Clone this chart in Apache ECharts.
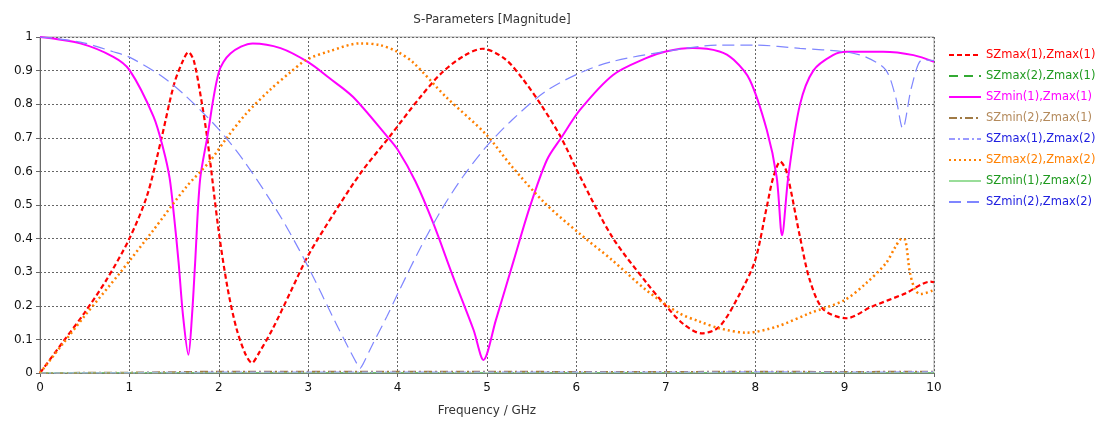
<!DOCTYPE html>
<html>
<head>
<meta charset="utf-8">
<title>S-Parameters [Magnitude]</title>
<script src="https://cdn.jsdelivr.net/npm/echarts@6/dist/echarts.min.js"></script>
<style>
  html, body { margin: 0; padding: 0; background: #fff; }
  #chart { width: 1105px; height: 424px; }
</style>
</head>
<body>
<div id="chart"></div>
<script>
// values (frequency in GHz, magnitude 0..1)
const redFreq = [0, 0.25, 0.5, 0.75, 1.0, 1.2, 1.36, 1.5, 1.6, 1.66, 1.72, 1.8, 1.87, 2.0, 2.1, 2.2, 2.3, 2.37, 2.45, 2.6, 2.8, 3.0, 3.3, 3.6, 3.9, 4.25, 4.5, 4.75, 4.95, 5.2, 5.4, 5.6, 5.83, 6.04, 6.4, 6.78, 7.0, 7.2, 7.4, 7.6, 7.83, 8.0, 8.13, 8.2, 8.28, 8.35, 8.5, 8.61, 8.76, 9.02, 9.3, 9.68, 9.96, 10]
const redMag = [0, 0.09, 0.18, 0.28, 0.40, 0.53, 0.70, 0.86, 0.93, 0.955, 0.93, 0.82, 0.70, 0.42, 0.25, 0.13, 0.055, 0.03, 0.06, 0.13, 0.24, 0.35, 0.48, 0.60, 0.70, 0.82, 0.895, 0.945, 0.965, 0.935, 0.875, 0.80, 0.70, 0.585, 0.405, 0.27, 0.20, 0.145, 0.118, 0.138, 0.237, 0.336, 0.495, 0.58, 0.629, 0.60, 0.406, 0.277, 0.19, 0.163, 0.197, 0.237, 0.272, 0.27]

const magentaFreq = [0, 0.45, 0.82, 1.0, 1.27, 1.38, 1.45, 1.5, 1.55, 1.6, 1.66, 1.70, 1.735, 1.79, 1.87, 2.0, 2.13, 2.38, 2.69, 3.0, 3.24, 3.5, 3.88, 4.0, 4.2, 4.4, 4.62, 4.85, 4.96, 5.1, 5.3, 5.48, 5.67, 5.83, 6.04, 6.41, 6.78, 7.0, 7.3, 7.6, 7.76, 7.94, 8.13, 8.24, 8.3, 8.37, 8.5, 8.65, 8.87, 9.02, 9.43, 9.77, 10]
const magentaMag = [1, 0.981, 0.941, 0.902, 0.763, 0.666, 0.58, 0.465, 0.33, 0.17, 0.054, 0.17, 0.327, 0.574, 0.70, 0.895, 0.951, 0.981, 0.967, 0.925, 0.877, 0.822, 0.705, 0.665, 0.57, 0.445, 0.287, 0.128, 0.039, 0.158, 0.336, 0.495, 0.634, 0.70, 0.783, 0.887, 0.937, 0.957, 0.967, 0.957, 0.932, 0.872, 0.723, 0.584, 0.41, 0.584, 0.798, 0.90, 0.946, 0.956, 0.956, 0.946, 0.926]

const orangeFreq = [0, 0.25, 0.5, 0.9, 1.27, 1.64, 1.9, 2.09, 2.3, 2.57, 2.8, 2.98, 3.24, 3.58, 3.8, 3.99, 4.17, 4.54, 4.99, 5.28, 5.65, 6.03, 6.4, 6.78, 7.15, 7.38, 7.6, 7.9, 8.24, 8.61, 9.0, 9.24, 9.46, 9.57, 9.64, 9.68, 9.73, 9.79, 9.85, 10]
const orangeMag = [0, 0.085, 0.17, 0.30, 0.426, 0.555, 0.63, 0.70, 0.77, 0.842, 0.895, 0.932, 0.958, 0.981, 0.976, 0.957, 0.925, 0.822, 0.71, 0.614, 0.505, 0.416, 0.336, 0.247, 0.178, 0.153, 0.133, 0.12, 0.138, 0.178, 0.217, 0.267, 0.326, 0.376, 0.40, 0.395, 0.30, 0.247, 0.235, 0.247]

const blueFreq = [0, 0.45, 0.82, 1.0, 1.37, 1.64, 2.0, 2.3, 2.68, 2.98, 3.31, 3.45, 3.55, 3.58, 3.61, 3.72, 3.88, 4.0, 4.25, 4.5, 4.73, 4.99, 5.28, 5.65, 6.03, 6.4, 7.0, 7.6, 8.0, 8.5, 9.0, 9.24, 9.46, 9.57, 9.65, 9.75, 9.87, 10]
const blueMag = [1, 0.985, 0.956, 0.94, 0.882, 0.822, 0.725, 0.624, 0.47, 0.326, 0.148, 0.075, 0.025, 0.014, 0.025, 0.085, 0.168, 0.235, 0.37, 0.49, 0.584, 0.673, 0.753, 0.837, 0.892, 0.927, 0.957, 0.976, 0.976, 0.966, 0.956, 0.94, 0.902, 0.822, 0.728, 0.852, 0.932, 0.93]

// the four traces that stay near zero
const lowFreq = [0, 1, 2, 3, 4, 5, 6, 7, 8, 9, 10]
const greenDashMag = [0, 0.001, 0.001, 0.001, 0.001, 0.001, 0.001, 0.001, 0.001, 0.001, 0.001]
const brownMag = [0, 0.001, 0.004, 0.004, 0.004, 0.004, 0.003, 0.003, 0.004, 0.003, 0.004]
const lightBlueMag = [0, 0.001, 0.002, 0.002, 0.002, 0.002, 0.002, 0.002, 0.003, 0.002, 0.003]
const greenSolidMag = [0, 0, 0, 0, 0, 0, 0, 0, 0, 0, 0]

const names = ['SZmax(1),Zmax(1)', 'SZmax(2),Zmax(1)', 'SZmin(1),Zmax(1)', 'SZmin(2),Zmax(1)',
  'SZmax(1),Zmax(2)', 'SZmax(2),Zmax(2)', 'SZmin(1),Zmax(2)', 'SZmin(2),Zmax(2)']
const textColors = ['#ff0000', '#1f9a1f', '#ff00ff', '#b48a5c', '#2020e0', '#ff8000', '#1f9a1f', '#2020e0']

function pairs(xs, ys) {
  return xs.map((x, i) => [x, ys[i]])
}

const font = 'DejaVu Sans'
const chart = echarts.init(document.getElementById('chart'))

function line(name, data, color, width, type, smooth) {
  return {
    name: name,
    type: 'line',
    data: data,
    symbol: 'none',
    smooth: smooth,
    lineStyle: { color: color, width: width, type: type },
    itemStyle: { color: color },
    animation: false
  }
}

let option = {
  title: {
    text: 'S-Parameters [Magnitude]',
    left: 487,
    textAlign: 'center',
    top: 9,
    textStyle: { fontFamily: font, fontSize: 12, fontWeight: 'normal', color: '#333' }
  },
  legend: {
    orient: 'vertical',
    left: 943,
    top: 44,
    itemWidth: 32,
    itemHeight: 12,
    itemGap: 9,
    // hide the symbol dot, keep only the line sample
    itemStyle: { color: 'rgba(0,0,0,0)', borderColor: 'rgba(0,0,0,0)', borderWidth: 0 },
    textStyle: { fontFamily: font, fontSize: 11.5 },
    data: names.map((n, i) => ({ name: n, textStyle: { color: textColors[i] } }))
  },
  grid: {
    left: 40,
    right: 171,
    top: 37,
    bottom: 51,
    show: true,
    borderColor: '#aaaaaa',
    borderWidth: 1
  },
  xAxis: {
    type: 'value',
    min: 0,
    max: 10,
    interval: 1,
    name: 'Frequency / GHz',
    nameLocation: 'middle',
    nameGap: 32,
    nameTextStyle: { fontFamily: font, fontSize: 12, color: '#333' },
    axisLine: { onZero: false, lineStyle: { color: '#666', width: 1 } },
    axisTick: { show: true, length: 4, lineStyle: { color: '#666' } },
    axisLabel: { fontFamily: font, fontSize: 12, color: '#111', margin: 9 },
    splitLine: { show: true, lineStyle: { color: '#666', type: [2, 2], width: 1 } }
  },
  yAxis: {
    type: 'value',
    min: 0,
    max: 1,
    interval: 0.1,
    axisLine: { show: true, lineStyle: { color: '#666', width: 1 } },
    axisTick: { show: true, length: 4, lineStyle: { color: '#666' } },
    axisLabel: {
      fontFamily: font,
      fontSize: 12,
      color: '#111',
      margin: 7,
      formatter: (v) => String(Math.round(v * 10) / 10)
    },
    splitLine: { show: true, lineStyle: { color: '#666', type: [2, 2], width: 1 } }
  },
  series: [
    line(names[0], pairs(redFreq, redMag), '#ff0000', 2.2, [5, 3], 0.3),
    line(names[1], pairs(lowFreq, greenDashMag), '#33aa33', 1, [9, 6], false),
    line(names[2], pairs(magentaFreq, magentaMag), '#ff00ff', 2, 'solid', 0.3),
    line(names[3], pairs(lowFreq, brownMag), '#a07a45', 2, [8, 3, 2, 3], false),
    line(names[4], pairs(lowFreq, lightBlueMag), '#9a9aff', 1.5, [6, 3, 2, 3], false),
    line(names[5], pairs(orangeFreq, orangeMag), '#ff8000', 2.5, [2, 3], 0.3),
    line(names[6], pairs(lowFreq, greenSolidMag), '#99dd99', 1, 'solid', false),
    line(names[7], pairs(blueFreq, blueMag), '#7f86ff', 1.2, [12, 6], 0.3)
  ]
}
chart.setOption(option)
</script>
</body>
</html>
